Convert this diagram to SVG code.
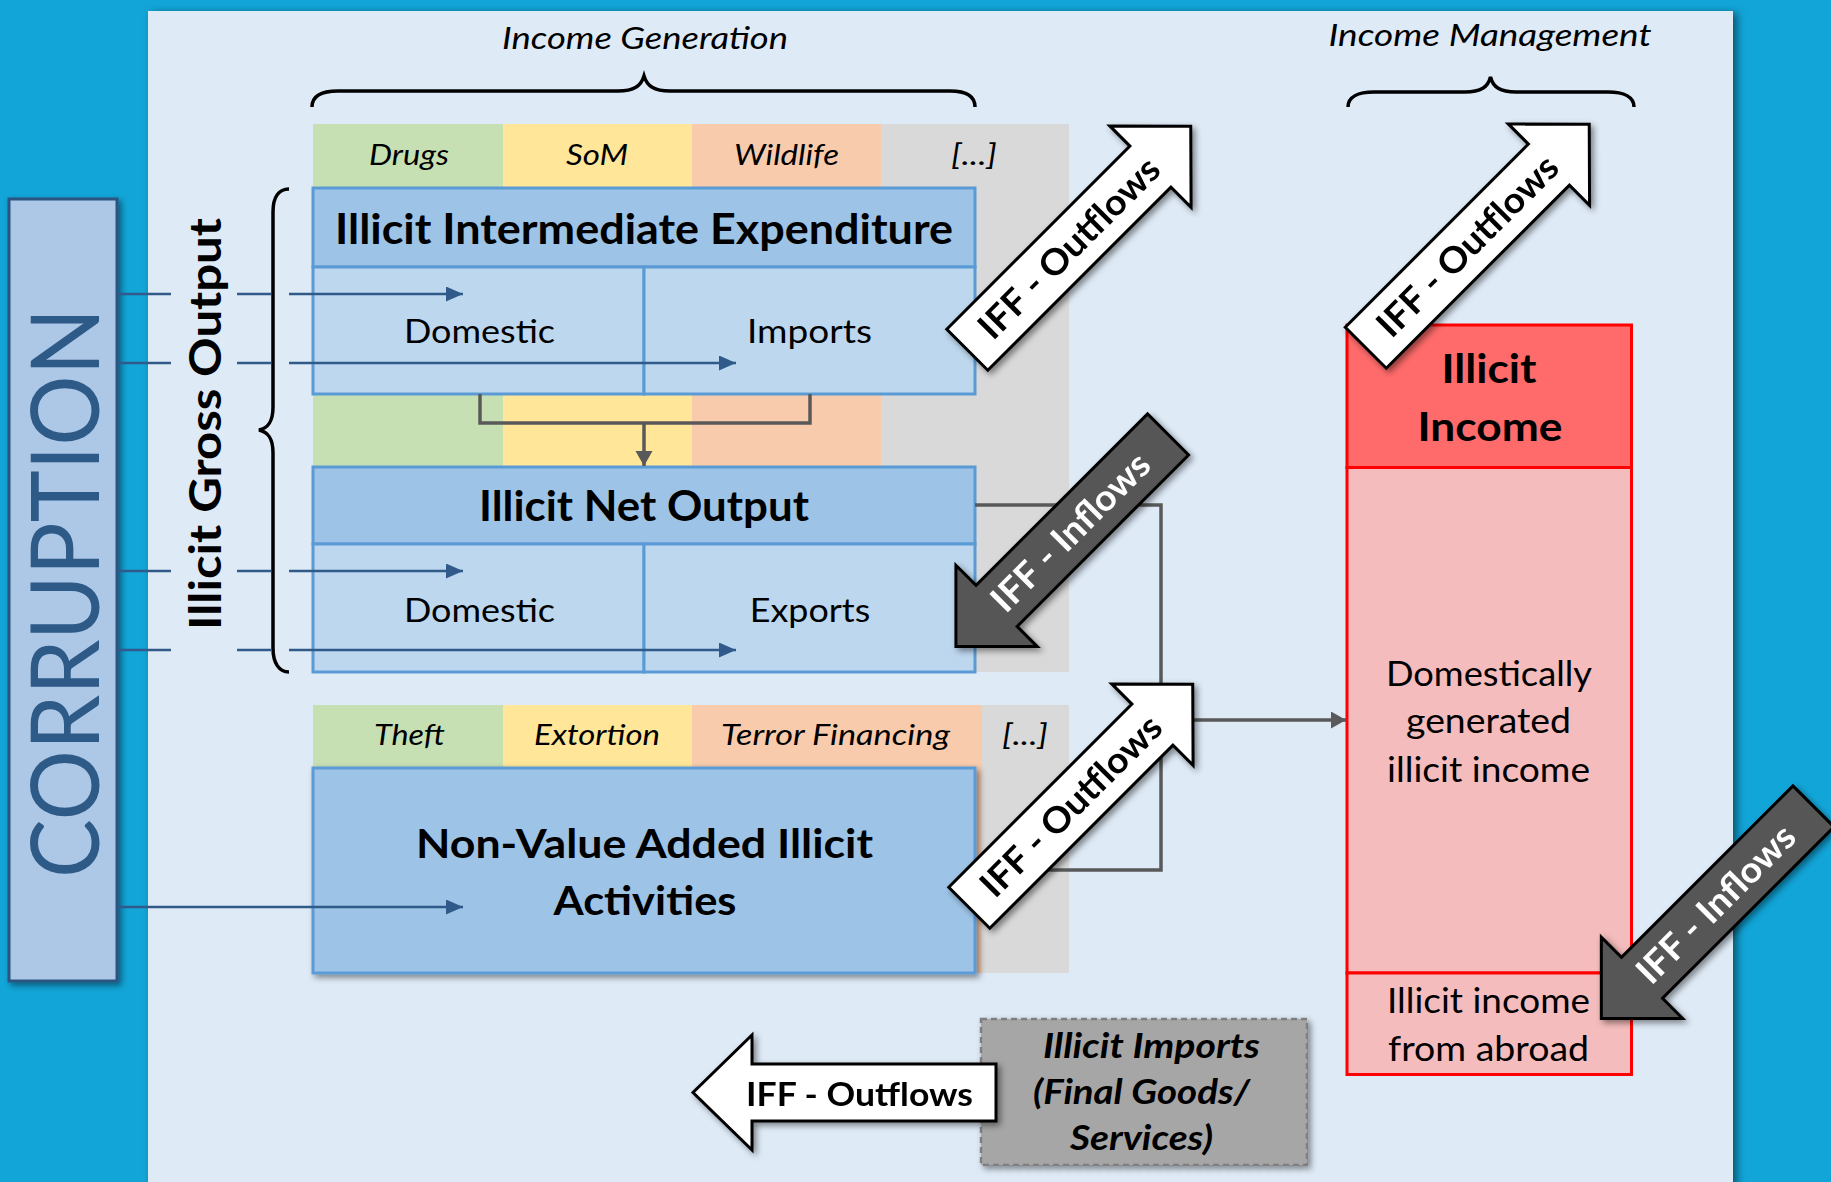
<svg xmlns="http://www.w3.org/2000/svg" width="1831" height="1182" viewBox="0 0 1831 1182">
<defs>
<style>
.t{font-family:Lato,"Open Sans","Liberation Sans",sans-serif;fill:#000;text-anchor:middle}
.b{font-weight:700}
.i{font-style:italic}
.hdr{fill:#9DC3E6;stroke:#5B9BD5;stroke-width:3}
.sub{fill:#BDD7EE;stroke:#5B9BD5;stroke-width:3}
.red{stroke:#FF0000;stroke-width:3}
.wa{fill:#FFFFFF;stroke:#000;stroke-width:3;stroke-linejoin:miter}
.da{fill:#575757;stroke:#000;stroke-width:3;stroke-linejoin:miter}
.bl{fill:none;stroke:#2F5A8A;stroke-width:2.6}
.gl{fill:none;stroke:#595959;stroke-width:3.5}
.br{fill:none;stroke:#000;stroke-width:3.5}
</style>
<marker id="ab" markerUnits="userSpaceOnUse" markerWidth="20" markerHeight="20" refX="17" refY="7.5" orient="auto"><path d="M0,0 L17,7.5 L0,15 Z" fill="#2F5A8A"/></marker>
<marker id="ag" markerUnits="userSpaceOnUse" markerWidth="20" markerHeight="20" refX="15" refY="8.5" orient="auto"><path d="M0,0 L15,8.5 L0,17 Z" fill="#595959"/></marker>
<filter id="sh" x="-10%" y="-10%" width="125%" height="125%"><feDropShadow dx="3" dy="3" stdDeviation="3" flood-color="#000" flood-opacity="0.45"/></filter>
<filter id="psh" x="-5%" y="-5%" width="110%" height="110%"><feDropShadow dx="4" dy="2" stdDeviation="4" flood-color="#000" flood-opacity="0.5"/></filter>
</defs>

<rect x="0" y="0" width="1831" height="1182" fill="#12A5D8"/>
<rect x="148" y="11" width="1585" height="1200" fill="#DEEAF6" filter="url(#psh)"/>

<!-- category columns -->
<g id="categories">
<rect x="313" y="124" width="190" height="548" fill="#C6E0B4"/>
<rect x="503" y="124" width="189" height="548" fill="#FFE699"/>
<rect x="692" y="124" width="189" height="548" fill="#F8CBAD"/>
<rect x="881" y="124" width="188" height="548" fill="#D9D9D9"/>
<text class="t i" x="409" y="165" font-size="29" textLength="80" lengthAdjust="spacingAndGlyphs">Drugs</text>
<text class="t i" x="597" y="165" font-size="29" textLength="62" lengthAdjust="spacingAndGlyphs">SoM</text>
<text class="t i" x="786.5" y="165" font-size="29" textLength="105" lengthAdjust="spacingAndGlyphs">Wildlife</text>
<text class="t i" x="974" y="165" font-size="29" textLength="46" lengthAdjust="spacingAndGlyphs">[...]</text>
<rect x="313" y="705" width="190" height="268" fill="#C6E0B4"/>
<rect x="503" y="705" width="189" height="268" fill="#FFE699"/>
<rect x="692" y="705" width="290" height="268" fill="#F8CBAD"/>
<rect x="982" y="705" width="87" height="268" fill="#D9D9D9"/>
<text class="t i" x="409.5" y="745" font-size="29" textLength="71" lengthAdjust="spacingAndGlyphs">Theft</text>
<text class="t i" x="597" y="745" font-size="29" textLength="126" lengthAdjust="spacingAndGlyphs">Extortion</text>
<text class="t i" x="835.5" y="745" font-size="29" textLength="229" lengthAdjust="spacingAndGlyphs">Terror Financing</text>
<text class="t i" x="1025" y="745" font-size="29" textLength="46" lengthAdjust="spacingAndGlyphs">[...]</text>
</g>

<!-- headings and braces -->
<g id="heading-generation">
<text class="t i" x="645" y="49" font-size="31.5" textLength="286" lengthAdjust="spacingAndGlyphs">Income Generation</text>
<path class="br" d="M312,107 C312,96 322,91 338,91 L618,91 C634,91 641,86 644,76 C647,86 654,91 670,91 L950,91 C966,91 975,96 975,107"/>
</g>
<g id="heading-management">
<text class="t i" x="1490" y="46" font-size="31.5" textLength="323" lengthAdjust="spacingAndGlyphs">Income Management</text>
<path class="br" d="M1348,107 C1348,97 1358,92 1374,92 L1465,92 C1481,92 1488,87 1490.5,77 C1493,87 1500,92 1516,92 L1608,92 C1624,92 1634,97 1634,107"/>
</g>
<g id="gross-output">
<text class="t b" transform="translate(221,424) rotate(-90)" x="0" y="0" font-size="44" textLength="412" lengthAdjust="spacingAndGlyphs">Illicit Gross Output</text>
<path class="br" d="M289,189 C279,189 273,197 273,212 L273,407 C273,422 268,428 259,430 C268,432 273,438 273,453 L273,648 C273,663 279,672 289,672"/>
</g>

<!-- corruption -->
<g id="corruption">
<rect x="9" y="199" width="108" height="782" fill="#ADC8E6" stroke="#2B5580" stroke-width="3" filter="url(#sh)"/>
<text class="t" transform="translate(99,593) rotate(-90)" x="0" y="0" font-size="95" style="fill:#2E5A88" textLength="570" lengthAdjust="spacingAndGlyphs">CORRUPTION</text>
</g>

<!-- intermediate expenditure -->
<g id="intermediate-expenditure">
<rect class="hdr" x="313" y="188" width="662" height="79"/>
<rect class="sub" x="313" y="267" width="331" height="127"/>
<rect class="sub" x="644" y="267" width="331" height="127"/>
<text class="t b" x="644" y="244" font-size="42" textLength="618" lengthAdjust="spacingAndGlyphs">Illicit Intermediate Expenditure</text>
<text class="t" x="479.5" y="343" font-size="33" textLength="151" lengthAdjust="spacingAndGlyphs">Domestic</text>
<text class="t" x="809.5" y="343" font-size="33" textLength="125" lengthAdjust="spacingAndGlyphs">Imports</text>
</g>

<!-- net output -->
<g id="net-output">
<rect class="hdr" x="313" y="467" width="662" height="77"/>
<rect class="sub" x="313" y="544" width="331" height="128"/>
<rect class="sub" x="644" y="544" width="331" height="128"/>
<text class="t b" x="644" y="521" font-size="42" textLength="330" lengthAdjust="spacingAndGlyphs">Illicit Net Output</text>
<text class="t" x="479.5" y="622" font-size="33" textLength="151" lengthAdjust="spacingAndGlyphs">Domestic</text>
<text class="t" x="810" y="622" font-size="33" textLength="120.5" lengthAdjust="spacingAndGlyphs">Exports</text>
</g>

<!-- non value added -->
<g id="non-value-added">
<rect class="hdr" x="313" y="768" width="662" height="205" filter="url(#sh)"/>
<text class="t b" x="644.5" y="858" font-size="40" textLength="457" lengthAdjust="spacingAndGlyphs">Non-Value Added Illicit</text>
<text class="t b" x="645" y="915" font-size="40" textLength="183" lengthAdjust="spacingAndGlyphs">Activities</text>
</g>

<!-- illicit income -->
<g id="illicit-income">
<rect class="red" x="1347" y="325" width="284.5" height="142.5" fill="#FF6B6B"/>
<rect class="red" x="1347" y="467.5" width="284.5" height="505.5" fill="#F4BCBC"/>
<rect class="red" x="1347" y="973" width="284.5" height="101.5" fill="#F4BCBC"/>
<text class="t b" x="1489" y="383" font-size="40" textLength="95" lengthAdjust="spacingAndGlyphs">Illicit</text>
<text class="t b" x="1490" y="440.5" font-size="40" textLength="145" lengthAdjust="spacingAndGlyphs">Income</text>
<text class="t" x="1489" y="686" font-size="34.5" textLength="206" lengthAdjust="spacingAndGlyphs">Domestically</text>
<text class="t" x="1488.5" y="733" font-size="34.5" textLength="165" lengthAdjust="spacingAndGlyphs">generated</text>
<text class="t" x="1488.5" y="781.5" font-size="34.5" textLength="203" lengthAdjust="spacingAndGlyphs">illicit income</text>
<text class="t" x="1488.5" y="1012.5" font-size="34.5" textLength="203" lengthAdjust="spacingAndGlyphs">Illicit income</text>
<text class="t" x="1488.5" y="1060.5" font-size="34.5" textLength="201" lengthAdjust="spacingAndGlyphs">from abroad</text>
</g>

<!-- illicit imports -->
<g id="illicit-imports">
<rect x="981" y="1019" width="326" height="146" fill="#A6A6A6" stroke="#7F7F7F" stroke-width="2.5" stroke-dasharray="6,4" filter="url(#sh)"/>
<text class="t b i" x="1151.5" y="1058" font-size="35" textLength="217" lengthAdjust="spacingAndGlyphs">Illicit Imports</text>
<text class="t b i" x="1141.5" y="1104" font-size="35" textLength="217" lengthAdjust="spacingAndGlyphs">(Final Goods/</text>
<text class="t b i" x="1141.5" y="1150" font-size="35" textLength="143" lengthAdjust="spacingAndGlyphs">Services)</text>
</g>

<!-- connectors -->
<g id="connectors">
<path class="bl" d="M117,294 H171 M237,294 H271"/>
<path class="bl" d="M289,294 H463" marker-end="url(#ab)"/>
<path class="bl" d="M117,363 H171 M237,363 H271"/>
<path class="bl" d="M289,363 H736" marker-end="url(#ab)"/>
<path class="bl" d="M117,571 H171 M237,571 H271"/>
<path class="bl" d="M289,571 H463" marker-end="url(#ab)"/>
<path class="bl" d="M117,650 H171 M237,650 H271"/>
<path class="bl" d="M289,650 H736" marker-end="url(#ab)"/>
<path class="bl" d="M117,907 H463" marker-end="url(#ab)"/>
<path class="gl" d="M480,394 V423 H810 V394"/>
<path class="gl" d="M644,423 V466" marker-end="url(#ag)"/>
<path class="gl" d="M975,505 H1161 V870 H975"/>
<path class="gl" d="M1161,720 H1346" marker-end="url(#ag)"/>
</g>

<!-- IFF arrows -->
<g id="iff-outflows-1" filter="url(#sh)">
<path class="wa" transform="translate(1079,238) rotate(-45)" d="M-158,-29 H101 V-57.5 L158,0 L101,57.5 V29 H-158 Z"/>
<text class="t b" transform="translate(1079,238) rotate(-45)" x="-14" y="12.5" font-size="36" textLength="240" lengthAdjust="spacingAndGlyphs">IFF - Outflows</text>
</g>
<g id="iff-outflows-2" filter="url(#sh)">
<path class="wa" transform="translate(1477.5,236) rotate(-45)" d="M-158,-29 H101 V-57.5 L158,0 L101,57.5 V29 H-158 Z"/>
<text class="t b" transform="translate(1477.5,236) rotate(-45)" x="-14" y="12.5" font-size="36" textLength="240" lengthAdjust="spacingAndGlyphs">IFF - Outflows</text>
</g>
<g id="iff-outflows-3" filter="url(#sh)">
<path class="wa" transform="translate(1081,796) rotate(-45)" d="M-158,-29 H101 V-57.5 L158,0 L101,57.5 V29 H-158 Z"/>
<text class="t b" transform="translate(1081,796) rotate(-45)" x="-14" y="12.5" font-size="36" textLength="240" lengthAdjust="spacingAndGlyphs">IFF - Outflows</text>
</g>
<g id="iff-inflows-1" filter="url(#sh)">
<path class="da" transform="translate(1062,540.5) rotate(135)" d="M-150,-29 H92.5 V-57.5 L150,0 L92.5,57.5 V29 H-150 Z"/>
<text class="t b" transform="translate(1062,540.5) rotate(-45)" x="12" y="12.5" font-size="36" style="fill:#FFFFFF" textLength="208" lengthAdjust="spacingAndGlyphs">IFF - Inflows</text>
</g>
<g id="iff-inflows-2" filter="url(#sh)">
<path class="da" transform="translate(1707.4,912.4) rotate(135)" d="M-150,-29 H92.5 V-57.5 L150,0 L92.5,57.5 V29 H-150 Z"/>
<text class="t b" transform="translate(1707.4,912.4) rotate(-45)" x="12" y="12.5" font-size="36" style="fill:#FFFFFF" textLength="208" lengthAdjust="spacingAndGlyphs">IFF - Inflows</text>
</g>
<g id="iff-outflows-4" filter="url(#sh)">
<path class="wa" d="M996,1064 H752 V1035 L693,1092.5 L752,1150 V1121 H996 Z"/>
<text class="t b" x="859.5" y="1106" font-size="31.5" textLength="227" lengthAdjust="spacingAndGlyphs">IFF - Outflows</text>
</g>
</svg>
